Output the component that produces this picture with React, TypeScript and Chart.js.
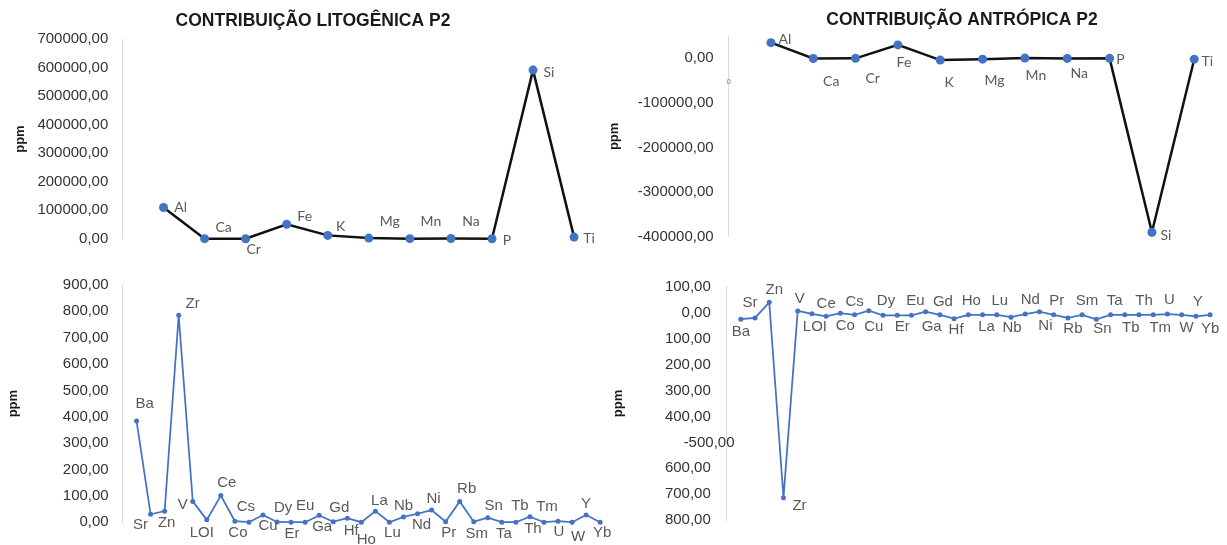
import React, { useEffect, useRef } from 'react';
import { Chart, registerables } from 'chart.js';

Chart.register(...registerables);

// ---------- DATA ----------
const majorElements = ['Al', 'Ca', 'Cr', 'Fe', 'K', 'Mg', 'Mn', 'Na', 'P', 'Si', 'Ti'];
const lithogenicMajor = [110000, 500, 200, 51000, 12000, 2500, 500, 1000, 300, 592000, 6000];
const anthropicMajor = [35000, -500, -100, 30000, -4000, -2000, 500, -200, -100, -390000, -2000];

const traceElements = [
  'Ba', 'Sr', 'Zn', 'Zr', 'V', 'LOI', 'Ce', 'Co', 'Cs', 'Cu', 'Dy', 'Er', 'Eu', 'Ga', 'Gd', 'Hf', 'Ho',
  'La', 'Lu', 'Nb', 'Nd', 'Ni', 'Pr', 'Rb', 'Sm', 'Sn', 'Ta', 'Tb', 'Th', 'Tm', 'U', 'W', 'Y', 'Yb',
];
const lithogenicTrace = [
  384, 30, 42, 785, 79, 9, 101, 4, 0, 27, 1, 0, 0, 26, 2, 15, 0,
  42, 0, 20, 32, 46, 2, 79, 2, 17, 0, 0, 21, 0, 4, 0, 27, 0,
];
const anthropicTrace = [
  -25, -20, 40, -713, 7, -4, -14, -2, -8, 8, -10, -10, -10, 4, -8, -23, -8,
  -8, -8, -17, -5, 4, -8, -20, -8, -25, -8, -8, -8, -8, -5, -8, -14, -8,
];

const majorLitoTicks = [0, 100000, 200000, 300000, 400000, 500000, 600000, 700000];
const majorAntroTicks = [-400000, -300000, -200000, -100000, 0];
const traceLitoTicks = [0, 100, 200, 300, 400, 500, 600, 700, 800, 900];
const traceAntroTicks = [-800, -700, -600, -500, -400, -300, -200, -100, 0, 100];

const titleLito = 'CONTRIBUIÇÃO LITOGÊNICA P2';
const titleAntro = 'CONTRIBUIÇÃO ANTRÓPICA P2';
const axisTitle = 'ppm';

// ---------- LABEL OFFSETS (style) ----------
const tlOffsets: number[][] = [[17, 0], [19, -11], [8, 11], [18, -8], [13, -9], [21, -17], [21, -17], [20, -17], [15, 2], [16, 2], [15, 1]];
const trOffsets: number[][] = [[14, -3], [18, 23], [17, 20], [6, 18], [9, 22], [12, 21], [11, 17], [12, 15], [11, 1], [14, 3], [13, 2]];
const blOffsets: number[][] = [
  [8, -17], [-10, 11], [2, 12], [14, -11], [-10, 3], [-5, 13], [6, -13], [3, 12], [-3, -15], [5, 11], [6, -14],
  [1, 12], [0, -16], [3, 12], [6, -14], [4, 13], [5, 18], [4, -10], [3, 11], [0, -11], [4, 11], [2, -11], [3, 11],
  [7, -13], [3, 12], [6, -12], [2, 12], [4, -16], [3, 12], [3, -15], [1, 11], [6, 15], [0, -11], [2, 11],
];
const brOffsets: number[][] = [
  [0, 13], [-5, -15], [5, -13], [16, 8], [2, -12], [3, 13], [0, -13], [5, 13], [0, -13], [5, 16], [3, -14],
  [5, 12], [4, -14], [6, 15], [3, -13], [2, 11], [3, -14], [4, 12], [3, -14], [1, 11], [5, -14], [6, 14], [3, -14],
  [5, 11], [5, -14], [6, 10], [4, -14], [6, 13], [5, -14], [7, 13], [2, -14], [5, 13], [2, -15], [0, 14],
];

const BLUE = '#4472C4';
const TICK_COLOR = '#333333';
const LABEL_COLOR = '#595959';
const SANS = '"Liberation Sans", Arial, sans-serif';

const fmt = (v: number) => v.toFixed(2).replace('.', ',');

type TextItem = { text: string; x: number; y?: number; yValue?: number; font: string; color: string; align: CanvasTextAlign };

function makeLabelPlugin(labels: string[], offsets: number[][], font: string, color: string) {
  return {
    id: 'pointLabels',
    afterDatasetsDraw(chart: any) {
      const ctx = chart.ctx;
      const meta = chart.getDatasetMeta(0);
      ctx.save();
      ctx.font = font;
      ctx.fillStyle = color;
      ctx.textAlign = 'center';
      ctx.textBaseline = 'middle';
      meta.data.forEach((el: any, i: number) => {
        const o = offsets[i] || [0, 0];
        ctx.fillText(labels[i], el.x + o[0], el.y + o[1]);
      });
      ctx.restore();
    },
  };
}

function makeTextPlugin(items: TextItem[]) {
  return {
    id: 'extraTexts',
    afterDraw(chart: any) {
      const ctx = chart.ctx;
      ctx.save();
      ctx.textBaseline = 'middle';
      items.forEach((it) => {
        ctx.font = it.font;
        ctx.fillStyle = it.color;
        ctx.textAlign = it.align;
        const y = it.yValue !== undefined ? chart.scales.y.getPixelForValue(it.yValue) : (it.y as number);
        ctx.fillText(it.text, it.x, y);
      });
      ctx.restore();
    },
  };
}

type Spec = {
  left: number; top: number; w: number; h: number;
  labels: string[]; values: number[]; ticks: number[];
  min: number; max: number; xMax: number;
  pad: { left: number; right: number; top: number; bottom: number };
  axisW: number; tickPad: number;
  major: boolean; offsets: number[][];
  texts: TextItem[];
  tickLabel: (v: number) => string;
};

function buildConfig(s: Spec): any {
  return {
    type: 'line',
    data: {
      datasets: [
        {
          data: s.values.map((v, i) => ({ x: i + 1, y: v })),
          borderColor: s.major ? '#111111' : BLUE,
          borderWidth: s.major ? 2.5 : 1.75,
          pointRadius: s.major ? 4.5 : 2.5,
          pointBackgroundColor: BLUE,
          pointBorderColor: BLUE,
          pointBorderWidth: 0,
          tension: 0,
          fill: false,
          clip: false,
        },
      ],
    },
    options: {
      responsive: false,
      animation: false,
      devicePixelRatio: 1,
      events: [],
      layout: { padding: s.pad },
      plugins: { legend: { display: false }, tooltip: { enabled: false }, title: { display: false } },
      scales: {
        x: { type: 'linear', min: 0, max: s.xMax, display: false },
        y: {
          type: 'linear',
          min: s.min,
          max: s.max,
          afterFit: (sc: any) => { sc.width = s.axisW; },
          afterBuildTicks: (sc: any) => { sc.ticks = s.ticks.map((v) => ({ value: v })); },
          grid: { display: false, drawTicks: false },
          border: { display: true, color: '#d9d9d9', width: 1 },
          ticks: {
            padding: s.tickPad,
            color: TICK_COLOR,
            font: { family: SANS, size: 15 },
            callback: (v: any) => s.tickLabel(Number(v)),
          },
          title: {
            display: true,
            text: axisTitle,
            color: '#1a1a1a',
            font: { family: SANS, size: 13, weight: 'bold' },
          },
        },
      },
    },
    plugins: [
      makeLabelPlugin(
        s.labels,
        s.offsets,
        s.major ? '14px Lato, "Open Sans", sans-serif' : `15px ${SANS}`,
        LABEL_COLOR,
      ),
      makeTextPlugin(s.texts),
    ],
  };
}

const titleFont = `bold 17.5px ${SANS}`;
const tickFont = `15px ${SANS}`;

const specs: Spec[] = [
  {
    left: 0, top: 0, w: 613, h: 262,
    labels: majorElements, values: lithogenicMajor, ticks: majorLitoTicks,
    min: 0, max: 700000, xMax: 11.5,
    pad: { left: 8.2, right: 18.4, top: 39.3, bottom: 19.3 },
    axisW: 114.3, tickPad: 14.2, major: true, offsets: tlOffsets,
    texts: [{ text: titleLito, x: 313, y: 21, font: titleFont, color: '#1a1a1a', align: 'center' }],
    tickLabel: fmt,
  },
  {
    left: 600, top: 0, w: 627, h: 262,
    labels: majorElements, values: anthropicMajor, ticks: majorAntroTicks,
    min: -400000, max: 50000, xMax: 11.5,
    pad: { left: 2.2, right: 11.6, top: 36, bottom: 25.3 },
    axisW: 126.4, tickPad: 15, major: true, offsets: trOffsets,
    texts: [
      { text: titleAntro, x: 362, y: 20, font: titleFont, color: '#1a1a1a', align: 'center' },
      { text: '0', x: 128.6, y: 81.7, font: `8px ${SANS}`, color: '#7f7f7f', align: 'center' },
    ],
    tickLabel: fmt,
  },
  {
    left: 0, top: 262, w: 613, h: 283,
    labels: traceElements, values: lithogenicTrace, ticks: traceLitoTicks,
    min: 0, max: 900, xMax: 34.5,
    pad: { left: 2, right: 5.8, top: 23, bottom: 18.5 },
    axisW: 120.5, tickPad: 13.8, major: false, offsets: blOffsets,
    texts: [],
    tickLabel: fmt,
  },
  {
    left: 600, top: 262, w: 627, h: 283,
    labels: traceElements, values: anthropicTrace, ticks: traceAntroTicks,
    min: -800, max: 100, xMax: 34.5,
    pad: { left: 6.9, right: 9.8, top: 16.3, bottom: 15.7 },
    axisW: 119.7, tickPad: 15.8, major: false, offsets: brOffsets,
    texts: [{ text: '-500,00', x: 134.5, yValue: -500, font: tickFont, color: TICK_COLOR, align: 'right' }],
    tickLabel: (v: number) => (v === -500 ? '' : fmt(Math.abs(v))),
  },
];

function Panel({ spec }: { spec: Spec }) {
  const ref = useRef<HTMLCanvasElement>(null);
  useEffect(() => {
    const chart = new Chart(ref.current as HTMLCanvasElement, buildConfig(spec));
    return () => chart.destroy();
  }, [spec]);
  return (
    <canvas
      ref={ref}
      width={spec.w}
      height={spec.h}
      style={{ position: 'absolute', left: spec.left, top: spec.top, width: spec.w, height: spec.h }}
    />
  );
}

export default function App() {
  return (
    <div
      style={{
        position: 'absolute', left: 0, top: 0, width: 1227, height: 545,
        background: '#ffffff', overflow: 'hidden',
      }}
    >
      {specs.map((s, i) => (
        <Panel key={i} spec={s} />
      ))}
    </div>
  );
}
